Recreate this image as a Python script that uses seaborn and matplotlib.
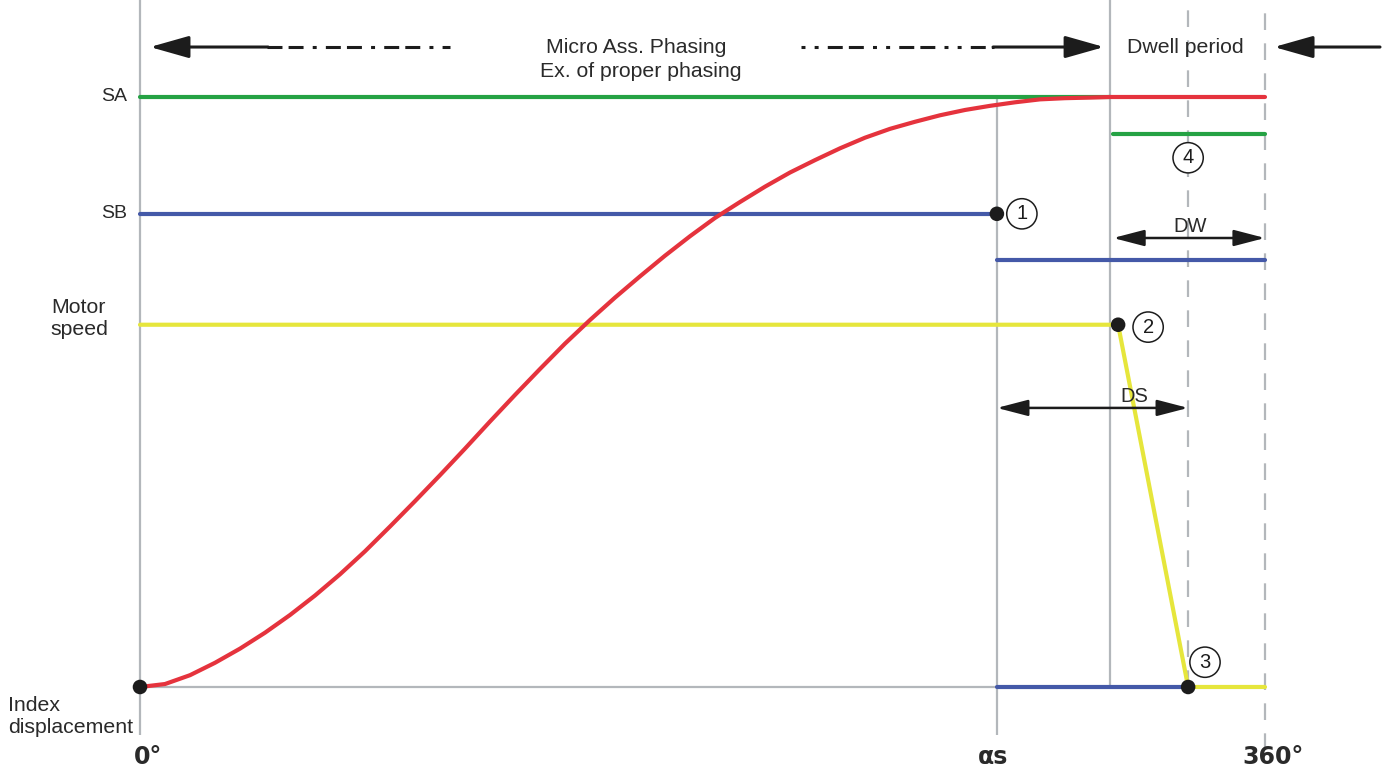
import numpy as np
import pandas as pd
import matplotlib
matplotlib.use("Agg")
import matplotlib.pyplot as plt
import seaborn as sns

# ---------------- data (x in degrees of index rotation, y normalised, SA = 1) ----------
cam_deg = [0, 8, 16, 24, 32, 40, 48, 56, 64, 72, 80, 88, 96, 104, 112, 120, 128, 136,
           144, 152, 160, 168, 176, 184, 192, 200, 208, 216, 224, 232, 240, 248, 256,
           264, 272, 280, 288, 296, 304, 310.4]
cam_disp = [0.000, 0.005, 0.020, 0.041, 0.065, 0.092, 0.122, 0.155, 0.191, 0.230,
            0.272, 0.315, 0.359, 0.404, 0.450, 0.495, 0.539, 0.582, 0.622, 0.660,
            0.696, 0.731, 0.764, 0.795, 0.822, 0.848, 0.872, 0.893, 0.913, 0.931,
            0.946, 0.958, 0.969, 0.978, 0.985, 0.991, 0.996, 0.998, 0.999, 1.000]

alpha_s = 274.2        # SB switch point
dwell_start = 310.4    # end of index movement
motor_stop = 313.0     # motor starts to decelerate
ds_end = 335.4         # motor stopped
full_turn = 360.0

level_SA = 1.0
level_SA_low = 0.937
level_SB = 0.802
level_SB_low = 0.724
level_motor = 0.614
level_index = 0.0

y_labels = ["SA", "SB", "Motor\nspeed", "Index\ndisplacement"]
x_labels = ["0°", "αs", "360°"]

# ---------------- style ----------------
sns.set_theme(style="white")
plt.rcParams["font.family"] = ["Liberation Sans", "DejaVu Sans"]

RED = "#e5333d"
GREEN = "#25a244"
BLUE = "#4459a8"
YELLOW = "#e6e63c"
GRAY = "#b3b7bb"
BLACK = "#1c1c1c"
TXT = "#2a2a2a"

fig = plt.figure(figsize=(13.94, 7.71), dpi=100)
ax = fig.add_axes([0, 0, 1, 1])
ax.set_xlim(-44.8, 401.28)
ax.set_ylim(-0.1424, 1.1644)
ax.axis("off")

# ---------------- grid / guide lines ----------------
ax.vlines(0, -0.0814, 1.1644, color=GRAY, lw=1.6, zorder=1)
ax.vlines(alpha_s, -0.0814, level_SA, color=GRAY, lw=1.6, zorder=1)
ax.vlines(dwell_start, level_index, 1.1644, color=GRAY, lw=1.6, zorder=1)
ax.vlines(ds_end, level_index, 1.1644, color=GRAY, lw=1.6, zorder=1,
          linestyles=[(0, (7.5, 6.0))])
ax.vlines(full_turn, -0.107, 1.1644, color=GRAY, lw=1.6, zorder=1,
          linestyles=[(0, (7.5, 6.0))])
sns.lineplot(x=[0, dwell_start], y=[level_index, level_index], ax=ax, color=GRAY,
             lw=1.6, zorder=1, estimator=None)

# ---------------- signal lines ----------------
LW = 3.0
sns.lineplot(x=[0, dwell_start], y=[level_SA, level_SA], ax=ax, color=GREEN, lw=LW,
             zorder=3, estimator=None)
sns.lineplot(x=[dwell_start + 1.0, full_turn], y=[level_SA_low, level_SA_low], ax=ax,
             color=GREEN, lw=LW, zorder=3, estimator=None)
sns.lineplot(x=[0, alpha_s], y=[level_SB, level_SB], ax=ax, color=BLUE, lw=LW,
             zorder=3, estimator=None)
sns.lineplot(x=[alpha_s, full_turn], y=[level_SB_low, level_SB_low], ax=ax, color=BLUE,
             lw=LW, zorder=3, estimator=None)
sns.lineplot(x=[alpha_s, ds_end], y=[level_index, level_index], ax=ax, color=BLUE,
             lw=LW, zorder=3, estimator=None)
sns.lineplot(x=[0, motor_stop, ds_end, full_turn],
             y=[level_motor, level_motor, level_index, level_index],
             ax=ax, color=YELLOW, lw=LW, zorder=3, estimator=None, sort=False)
cam = pd.DataFrame({"deg": cam_deg + [full_turn], "disp": cam_disp + [level_SA]})
sns.lineplot(data=cam, x="deg", y="disp", ax=ax, color=RED, lw=LW, zorder=4,
             estimator=None, sort=False)

# dots
dots = pd.DataFrame({"x": [0, alpha_s, motor_stop, ds_end],
                     "y": [level_index, level_SB, level_motor, level_index]})
sns.scatterplot(data=dots, x="x", y="y", ax=ax, color=BLACK, s=110, zorder=6,
                edgecolor="none")

# ---------------- arrows at top ----------------
ytop = 1.0847
arr_kw = dict(arrowstyle="-|>,head_length=1.2,head_width=0.34", mutation_scale=20,
              lw=2.2, color=BLACK, shrinkA=0, shrinkB=0)
ax.annotate("", xy=(3.2, ytop), xytext=(41.0, ytop), arrowprops=arr_kw, zorder=5)
ax.plot([40.6, 99.2], [ytop, ytop], color=BLACK, lw=2.2,
        ls=(0, (4.9, 2.0, 4.9, 3.0, 1.3, 3.0)), dash_capstyle="butt")
ax.annotate("", xy=(308.5, ytop), xytext=(273.0, ytop), arrowprops=arr_kw, zorder=5)
ax.plot([211.5, 273.3], [ytop, ytop], color=BLACK, lw=2.2,
        ls=(0, (1.3, 3.0, 1.3, 3.0, 4.9, 2.0, 4.9, 3.0)), dash_capstyle="butt")
ax.annotate("", xy=(362.9, ytop), xytext=(396.8, ytop), arrowprops=arr_kw, zorder=5)

ax.text(158.7, ytop, "Micro Ass. Phasing", ha="center", va="center", fontsize=15.3,
        color=TXT)
ax.text(160.3, 1.044, "Ex. of proper phasing", ha="center", va="center", fontsize=15.3,
        color=TXT)
ax.text(315.8, ytop, "Dwell period", ha="left", va="center", fontsize=15.3, color=TXT)

# ---------------- DW / DS dimension arrows ----------------
dim_kw = dict(arrowstyle="<|-|>,head_length=1.0,head_width=0.26", mutation_scale=19,
              lw=1.8, color=BLACK, shrinkA=0, shrinkB=0)
ax.annotate("", xy=(311.4, 0.761), xytext=(full_turn, 0.761), arrowprops=dim_kw)
ax.text(336.0, 0.780, "DW", ha="center", va="center", fontsize=14.5, color=TXT)
ax.annotate("", xy=(alpha_s, 0.473), xytext=(ds_end, 0.473), arrowprops=dim_kw)
ax.text(318.1, 0.492, "DS", ha="center", va="center", fontsize=14.5, color=TXT)

# ---------------- circled numbers ----------------
circ = dict(boxstyle="circle,pad=0.28", fc="white", ec=BLACK, lw=1.1)
for num, (cx, cy) in zip(["1", "2", "3", "4"],
                         [(282.2, 0.802), (322.6, 0.610), (340.8, 0.042), (335.4, 0.897)]):
    ax.text(cx, cy, num, ha="center", va="center", fontsize=14.5, color=BLACK,
            bbox=circ, zorder=7)

# ---------------- axis labels ----------------
ax.text(-4.16, level_SA, y_labels[0], ha="right", va="center", fontsize=14, color=TXT)
ax.text(-4.16, level_SB, y_labels[1], ha="right", va="center", fontsize=14, color=TXT)
ax.text(-28.5, 0.624, y_labels[2], ha="left", va="center", fontsize=15.3, color=TXT,
        linespacing=1.2)
ax.text(-42.2, -0.050, y_labels[3], ha="left", va="center", fontsize=15.3, color=TXT,
        linespacing=1.2)
for lab, xx in zip(x_labels, [2.56, 273.0, 362.6]):
    ax.text(xx, -0.1186, lab, ha="center", va="center", fontsize=17, color=TXT,
            fontweight="bold", family="DejaVu Sans")

fig.savefig("out.png", dpi=100)
